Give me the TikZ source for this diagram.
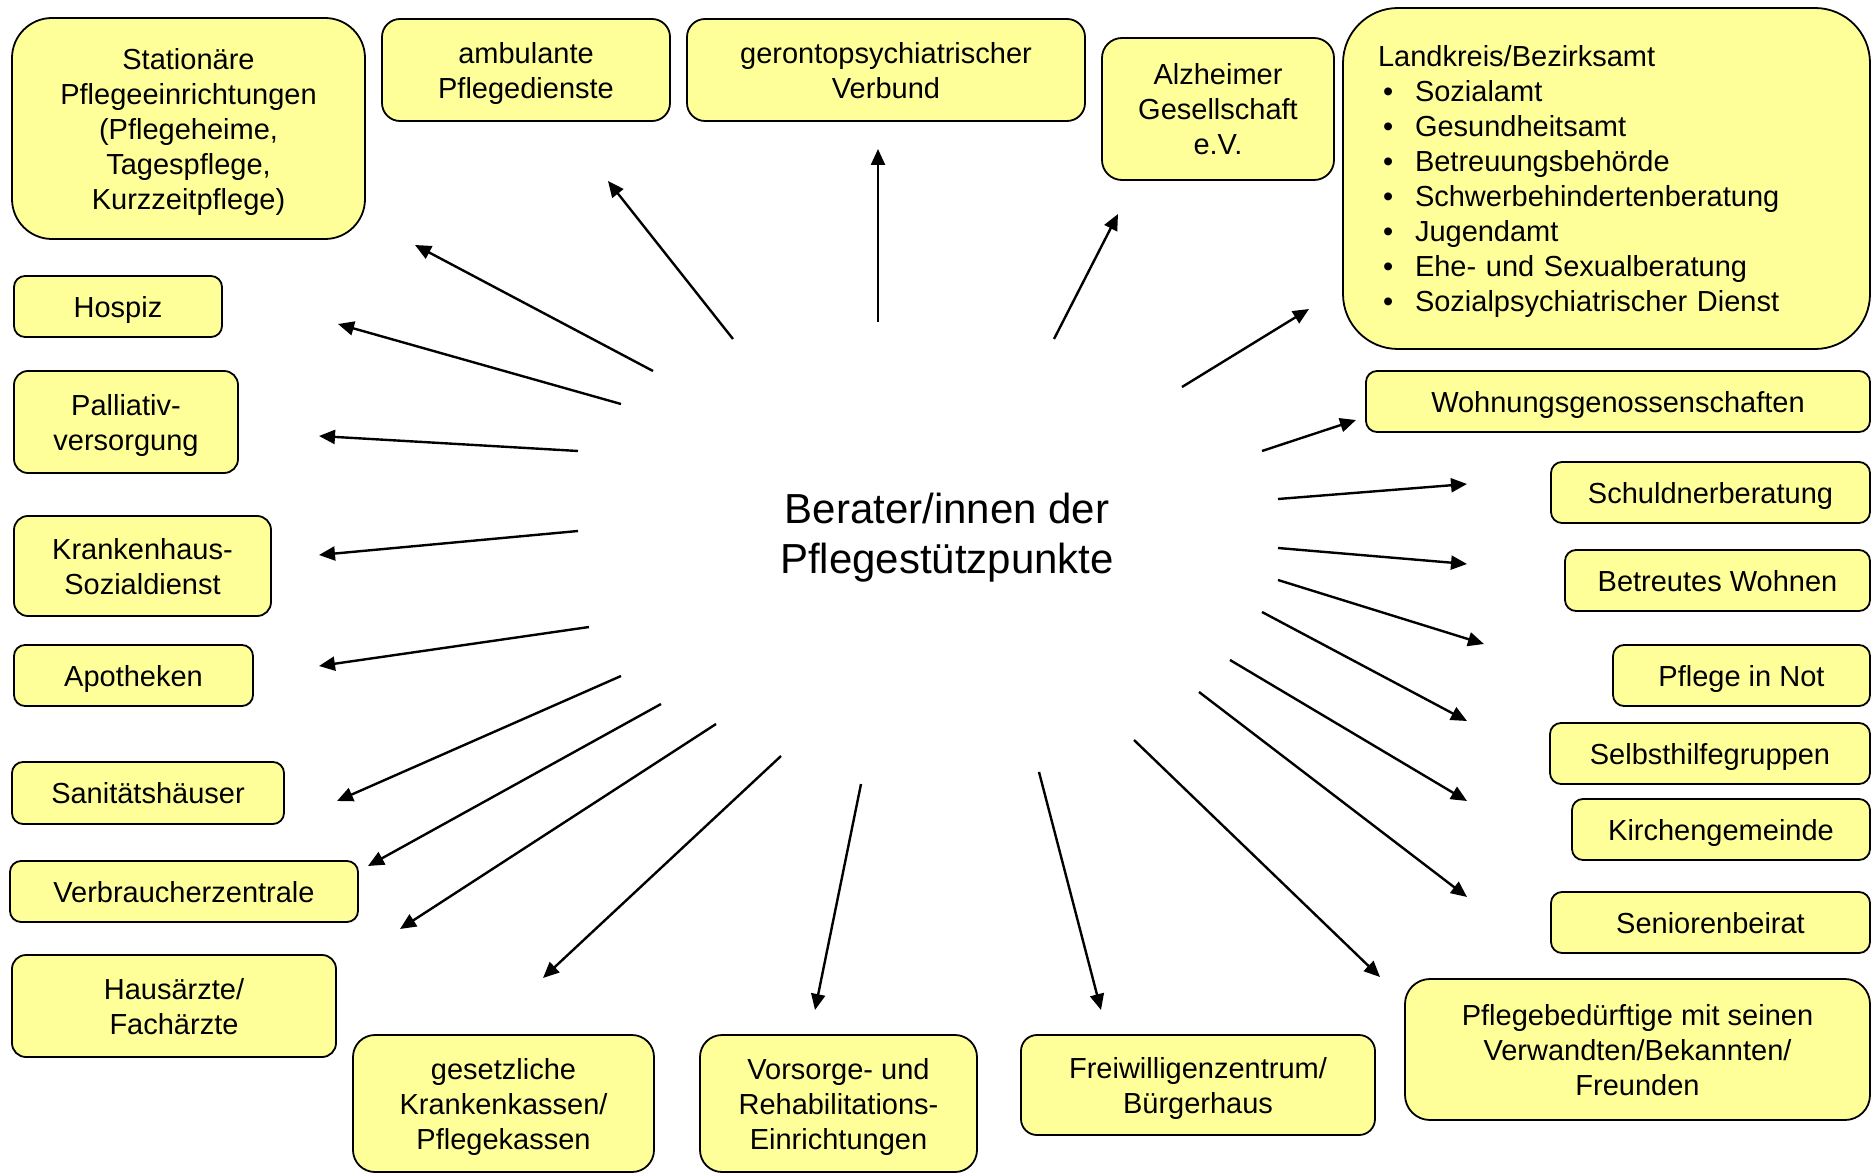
\documentclass[tikz,border=0pt]{standalone}
\usepackage{fontspec}
\setmainfont{Liberation Sans}
\usetikzlibrary{arrows.meta}
\definecolor{boxyellow}{HTML}{FFFF99}
\tikzset{
  box/.style={draw=black, line width=1.8pt, fill=boxyellow, align=center, inner sep=0pt,
    font=\fontsize{29}{35}\selectfont, rounded corners=#1,
    execute at begin node={\rule{0pt}{28pt}}, execute at end node={\rule[-6.1pt]{0pt}{0pt}}},
  box/.default=12pt,
  arr/.style={line width=2.4pt, -{Triangle[length=16pt,width=14pt]}},
}
\newcommand{\bul}[1]{\hspace*{5pt}\makebox[32pt][l]{•}#1}
\newcommand{\fl}{\rule{0pt}{28pt}}
\begin{document}
\begin{tikzpicture}[x=1pt,y=-1pt]
\useasboundingbox (0,0) rectangle (1872,1174);
% boxes
\node[box=40pt, minimum width=353pt, minimum height=221pt] (stat) at (188.5,128.5) {\fl Stationäre\\Pflegeeinrichtungen\\(Pflegeheime,\\Tagespflege,\\Kurzzeitpflege)};
\node[box=18pt, minimum width=288pt, minimum height=102pt] (amb) at (526,70) {\fl ambulante\\Pflegedienste};
\node[box=18pt, minimum width=398pt, minimum height=102pt] (ger) at (886,70) {\fl gerontopsychiatrischer\\Verbund};
\node[box=20pt, minimum width=232pt, minimum height=142pt] (alz) at (1218,109) {\fl Alzheimer\\Gesellschaft\\e.V.};
\node[box=55pt, minimum width=527pt, minimum height=341pt, text width=457pt, inner xsep=35pt, align=left] (land) at (1606.5,178.5)
  {Landkreis/Bezirksamt\\\bul{Sozialamt}\\\bul{Gesundheitsamt}\\\bul{Betreuungsbehörde}\\\bul{Schwerbehindertenberatung}\\\bul{Jugendamt}\\\bul{Ehe- und Sexualberatung}\\\bul{Sozialpsychiatrischer Dienst}};
\node[box=11pt, minimum width=208pt, minimum height=61pt] (hosp) at (118,306.5) {Hospiz};
\node[box=14pt, minimum width=224pt, minimum height=102pt] (pall) at (126,422) {\fl Palliativ-\\versorgung};
\node[box=14pt, minimum width=257pt, minimum height=100pt] (kh) at (142.5,566) {\fl Krankenhaus-\\Sozialdienst};
\node[box=11pt, minimum width=239pt, minimum height=61pt] (apo) at (133.5,675.5) {Apotheken};
\node[box=11pt, minimum width=272pt, minimum height=62pt] (san) at (148,793) {Sanitätshäuser};
\node[box=11pt, minimum width=348pt, minimum height=61pt] (verb) at (184,891.5) {Verbraucherzentrale};
\node[box=14pt, minimum width=324pt, minimum height=102pt] (haus) at (174,1006) {\fl Hausärzte/\\Fachärzte};
\node[box=22pt, minimum width=301pt, minimum height=137pt] (kk) at (503.5,1103.5) {\fl gesetzliche\\Krankenkassen/\\Pflegekassen};
\node[box=22pt, minimum width=277pt, minimum height=137pt] (vor) at (838.5,1103.5) {\fl Vorsorge- und\\Rehabilitations-\\Einrichtungen};
\node[box=16pt, minimum width=354pt, minimum height=100pt] (frei) at (1198,1085) {\fl Freiwilligenzentrum/\\Bürgerhaus};
\node[box=25pt, minimum width=465pt, minimum height=141pt] (pfl) at (1637.5,1049.5) {\fl Pflegebedürftige mit seinen\\Verwandten/Bekannten/\\Freunden};
\node[box=11pt, minimum width=319pt, minimum height=61pt] (sen) at (1710.5,922.5) {Seniorenbeirat};
\node[box=11pt, minimum width=298pt, minimum height=61pt] (kir) at (1721,829.5) {Kirchengemeinde};
\node[box=11pt, minimum width=320pt, minimum height=61pt] (selb) at (1710,753.5) {Selbsthilfegruppen};
\node[box=11pt, minimum width=257pt, minimum height=61pt] (not) at (1741.5,675.5) {Pflege in Not};
\node[box=11pt, minimum width=305pt, minimum height=61pt] (betr) at (1717.5,580.5) {Betreutes Wohnen};
\node[box=11pt, minimum width=319pt, minimum height=61pt] (schuld) at (1710.5,492.5) {Schuldnerberatung};
\node[box=11pt, minimum width=504pt, minimum height=61pt] (wohn) at (1618,401.5) {Wohnungsgenossenschaften};
% centre
\node[align=center, inner sep=0pt, font=\fontsize{42}{50}\selectfont] (ctr) at (947,538) {Berater/innen der\\Pflegestützpunkte};
% arrow end points
\coordinate (s1) at (653,371);   \coordinate (e1) at (415,245);
\coordinate (s2) at (733,339);   \coordinate (e2) at (608,181);
\coordinate (s3) at (878,322);   \coordinate (e3) at (878,149);
\coordinate (s4) at (1054,339);  \coordinate (e4) at (1118,214);
\coordinate (s5) at (1182,387);  \coordinate (e5) at (1309,309);
\coordinate (s6) at (621,404);   \coordinate (e6) at (338,324);
\coordinate (s7) at (578,451);   \coordinate (e7) at (319,436);
\coordinate (s8) at (578,531);   \coordinate (e8) at (319,555);
\coordinate (s9) at (589,627);   \coordinate (e9) at (319,666);
\coordinate (s10) at (621,676);  \coordinate (e10) at (337,801);
\coordinate (s11) at (661,704);  \coordinate (e11) at (368,866);
\coordinate (s12) at (716,724);  \coordinate (e12) at (400,929);
\coordinate (s13) at (781,756);  \coordinate (e13) at (543,978);
\coordinate (s14) at (861,784);  \coordinate (e14) at (815,1010);
\coordinate (s15) at (1039,772); \coordinate (e15) at (1101,1010);
\coordinate (s16) at (1134,740); \coordinate (e16) at (1380,977);
\coordinate (s17) at (1199,692); \coordinate (e17) at (1467,897);
\coordinate (s18) at (1230,660); \coordinate (e18) at (1467,801);
\coordinate (s19) at (1262,612); \coordinate (e19) at (1467,721);
\coordinate (s20) at (1278,580); \coordinate (e20) at (1484,644);
\coordinate (s21) at (1278,548); \coordinate (e21) at (1467,564);
\coordinate (s22) at (1278,499); \coordinate (e22) at (1467,484);
\coordinate (s23) at (1262,451); \coordinate (e23) at (1356,420);
\foreach \i in {1,...,23} { \draw[arr] (s\i) -- (e\i); }
\end{tikzpicture}
\end{document}
